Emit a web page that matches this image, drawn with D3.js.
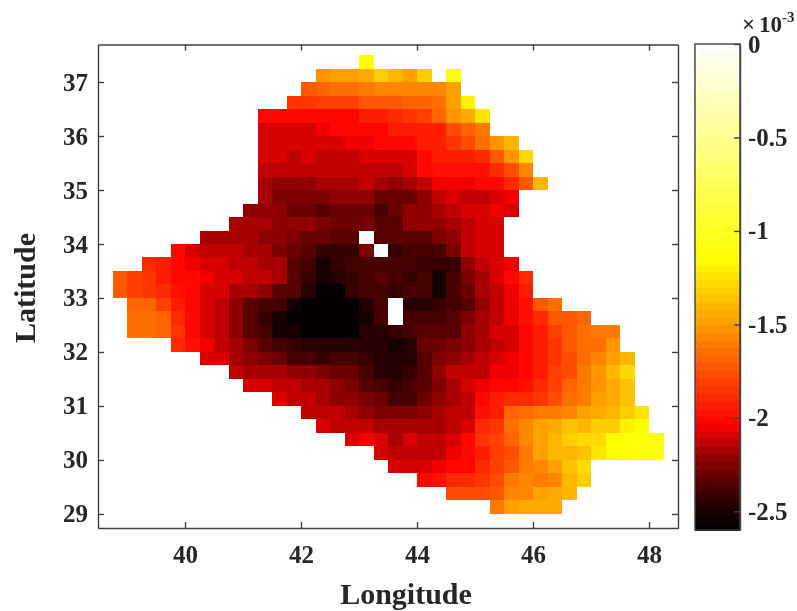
<!DOCTYPE html>
<html>
<head>
<meta charset="utf-8">
<script src="https://cdnjs.cloudflare.com/ajax/libs/d3/7.8.5/d3.min.js"></script>
<style>
  html, body { margin: 0; padding: 0; background: #fff; overflow: hidden; }
  svg { display: block; filter: blur(0.45px); }
  text { font-family: "Liberation Serif", serif; font-weight: bold; fill: #262626; }
  .tick text { font-size: 25px; }
  .axis path, .tick line { stroke: #404040; stroke-width: 1.4px; }
</style>
</head>
<body>
<svg id="chart" width="797" height="611"></svg>
<script>
// grid: 0.25 degree cells, rows listed north to south
var lonStart = 38.75, latStart = 37.5, cellSize = 0.25;

var xTicks = [40, 42, 44, 46, 48];
var yTicks = [29, 30, 31, 32, 33, 34, 35, 36, 37];
var cbarTicks = [0, -0.5, -1, -1.5, -2, -2.5];

// first column of each row
var rowStart = [17, 14, 13, 12, 10, 10, 10, 10, 10, 10, 10, 9, 8, 6, 4, 2, 0, 0, 1, 1, 1, 4, 6, 8, 9, 11, 13, 14, 16, 18, 19, 21, 23, 26];

// values in units of 1e-3, null = no data
var rows = [
  [-1.15],
  [-1.54,-1.48,-1.48,-1.45,-1.32,-1.41,-1.48,-1.31,null,-1.13],
  [-1.73,-1.68,-1.64,-1.64,-1.59,-1.57,-1.57,-1.57,-1.57,-1.57,-1.48],
  [-1.85,-1.85,-1.80,-1.80,-1.80,-1.73,-1.73,-1.71,-1.68,-1.69,-1.64,-1.48,-1.2],
  [-2.03,-2.03,-2.03,-2.03,-2.0,-2.0,-2.0,-1.92,-1.92,-1.87,-1.85,-1.82,-1.68,-1.54,-1.43,-1.25],
  [-2.08,-2.10,-2.10,-2.10,-2.06,-2.03,-2.03,-2.0,-2.0,-1.94,-1.94,-1.91,-1.91,-1.78,-1.68,-1.59],
  [-2.11,-2.11,-2.11,-2.11,-2.08,-2.08,-2.05,-2.05,-2.03,-2.03,-2.0,-1.91,-1.91,-1.84,-1.78,-1.66,-1.52,-1.39],
  [-2.11,-2.11,-2.13,-2.11,-2.12,-2.12,-2.12,-2.08,-2.1,-2.1,-2.08,-2.0,-1.92,-1.92,-1.92,-1.89,-1.73,-1.52,-1.29],
  [-2.14,-2.14,-2.14,-2.14,-2.12,-2.12,-2.12,-2.12,-2.12,-2.13,-2.09,-2.03,-1.96,-1.96,-1.96,-1.96,-1.87,-1.78,-1.57],
  [-2.18,-2.22,-2.22,-2.22,-2.18,-2.18,-2.18,-2.13,-2.19,-2.22,-2.18,-2.12,-2.07,-2.06,-2.06,-2.03,-2.0,-1.87,-1.71,-1.39],
  [-2.19,-2.27,-2.27,-2.27,-2.27,-2.23,-2.23,-2.23,-2.31,-2.28,-2.28,-2.22,-2.13,-2.11,-2.13,-2.13,-2.11,-2.04],
  [-2.23,-2.22,-2.22,-2.28,-2.28,-2.33,-2.28,-2.28,-2.28,-2.37,-2.28,-2.23,-2.23,-2.18,-2.14,-2.11,-2.11,-2.06,-2.09],
  [-2.18,-2.18,-2.18,-2.21,-2.21,-2.21,-2.25,-2.31,-2.31,-2.26,-2.33,-2.34,-2.22,-2.22,-2.2,-2.17,-2.13,-2.08,-2.08],
  [-2.18,-2.19,-2.19,-2.19,-2.2,-2.2,-2.25,-2.3,-2.3,-2.35,-2.35,null,-2.33,-2.35,-2.33,-2.32,-2.25,-2.2,-2.13,-2.11,-2.11],
  [-2.03,-2.11,-2.12,-2.15,-2.15,-2.16,-2.16,-2.24,-2.3,-2.34,-2.4,-2.4,-2.4,-2.24,null,-2.4,-2.39,-2.39,-2.39,-2.26,-2.15,-2.11,-2.09],
  [-1.87,-1.94,-2.03,-2.06,-2.09,-2.11,-2.13,-2.13,-2.16,-2.18,-2.34,-2.38,-2.5,-2.41,-2.38,-2.36,-2.36,-2.36,-2.36,-2.43,-2.43,-2.41,-2.22,-2.14,-2.11,-2.06],
  [-1.73,-1.82,-1.85,-1.91,-2.03,-2.03,-2.05,-2.09,-2.1,-2.13,-2.13,-2.18,-2.35,-2.43,-2.5,-2.47,-2.41,-2.36,-2.35,-2.36,-2.41,-2.39,-2.48,-2.39,-2.24,-2.17,-2.11,-2.03,-1.89],
  [-1.73,-1.8,-1.85,-1.89,-1.96,-2.01,-2.08,-2.1,-2.16,-2.18,-2.2,-2.34,-2.33,-2.45,-2.56,-2.56,-2.42,-2.37,-2.36,-2.41,-2.39,-2.39,-2.48,-2.37,-2.28,-2.18,-2.12,-2.05,-1.91],
  [-1.69,-1.69,-1.82,-1.92,-2.03,-2.08,-2.13,-2.21,-2.33,-2.37,-2.39,-2.5,-2.58,-2.58,-2.58,-2.58,-2.44,-2.37,null,-2.47,-2.47,-2.42,-2.37,-2.32,-2.22,-2.14,-2.05,-1.96,-1.73,-1.64],
  [-1.64,-1.64,-1.68,-1.87,-2.03,-2.08,-2.13,-2.2,-2.34,-2.41,-2.49,-2.56,-2.58,-2.58,-2.58,-2.58,-2.49,-2.37,null,-2.39,-2.39,-2.39,-2.34,-2.26,-2.18,-2.14,-2.05,-1.98,-1.87,-1.73,-1.71,-1.68],
  [-1.64,-1.64,-1.68,-1.85,-2.01,-2.08,-2.13,-2.2,-2.32,-2.39,-2.49,-2.5,-2.58,-2.58,-2.58,-2.58,-2.47,-2.44,-2.41,-2.39,-2.33,-2.33,-2.32,-2.2,-2.17,-2.11,-2.08,-2.03,-1.94,-1.82,-1.73,-1.64,-1.62,-1.59],
  [-1.89,-1.98,-2.07,-2.13,-2.18,-2.26,-2.35,-2.39,-2.43,-2.44,-2.47,-2.47,-2.47,-2.47,-2.44,-2.48,-2.44,-2.31,-2.31,-2.26,-2.2,-2.18,-2.12,-2.1,-2.03,-1.94,-1.83,-1.73,-1.66,-1.64,-1.54],
  [-2.08,-2.1,-2.16,-2.2,-2.26,-2.3,-2.37,-2.39,-2.41,-2.39,-2.39,-2.42,-2.44,-2.47,-2.44,-2.33,-2.24,-2.2,-2.16,-2.13,-2.11,-2.05,-2.03,-1.92,-1.85,-1.78,-1.66,-1.57,-1.48,-1.39],
  [-2.14,-2.18,-2.18,-2.18,-2.22,-2.22,-2.25,-2.3,-2.3,-2.39,-2.47,-2.47,-2.41,-2.33,-2.2,-2.14,-2.14,-2.13,-2.05,-2.05,-2.02,-1.92,-1.82,-1.75,-1.62,-1.52,-1.41,-1.29],
  [-2.11,-2.11,-2.14,-2.14,-2.18,-2.18,-2.23,-2.27,-2.32,-2.37,-2.41,-2.38,-2.34,-2.24,-2.17,-2.11,-2.06,-2.03,-2.03,-1.98,-1.87,-1.8,-1.7,-1.59,-1.52,-1.43,-1.36],
  [-2.09,-2.13,-2.13,-2.18,-2.2,-2.2,-2.25,-2.3,-2.36,-2.36,-2.28,-2.23,-2.17,-2.12,-2.0,-1.92,-1.89,-1.87,-1.85,-1.77,-1.64,-1.59,-1.5,-1.43,-1.36],
  [-2.13,-2.13,-2.15,-2.18,-2.2,-2.25,-2.25,-2.25,-2.2,-2.18,-2.15,-2.12,-1.98,-1.92,-1.69,-1.64,-1.61,-1.61,-1.57,-1.47,-1.45,-1.39,-1.31,-1.22],
  [-2.11,-2.14,-2.14,-2.14,-2.18,-2.18,-2.18,-2.18,-2.18,-2.12,-2.08,-1.89,-1.85,-1.64,-1.57,-1.48,-1.45,-1.36,-1.41,-1.32,-1.31,-1.2,-1.15],
  [-2.09,-2.06,-2.11,-2.16,-2.11,-2.14,-2.14,-2.09,-2.03,-1.85,-1.8,-1.69,-1.55,-1.47,-1.41,-1.34,-1.29,-1.27,-1.17,-1.13,-1.13,-1.13],
  [-2.08,-2.12,-2.12,-2.12,-2.12,-2.05,-2.02,-1.91,-1.82,-1.75,-1.59,-1.5,-1.39,-1.41,-1.36,-1.23,-1.14,-1.14,-1.07,-1.07],
  [-2.09,-2.11,-2.09,-2.05,-2.0,-2.0,-1.87,-1.82,-1.73,-1.59,-1.55,-1.48,-1.36,-1.29],
  [-2.03,-1.98,-1.89,-1.87,-1.85,-1.78,-1.62,-1.57,-1.62,-1.55,-1.41,-1.31],
  [-1.78,-1.78,-1.75,-1.71,-1.57,-1.55,-1.48,-1.45,-1.41],
  [-1.59,-1.48,-1.46,-1.43,-1.43]
];

// colormap
var cmapValues = [-2.6, -2.49, -2.33, -2.22, -2.03, -1.15, 0];
var cmapColors = ['#000000', '#190000', '#5a0000', '#8c0000', '#ff0000', '#ffff00', '#ffffff'];
var nLevels = 64;

var svg = d3.select('#chart');
var box = {left: 98, right: 678, top: 44.5, bottom: 528};

var x = d3.scaleLinear().domain([38.5, 48.5]).range([box.left, box.right]);
var y = d3.scaleLinear().domain([37.695, 28.74]).range([box.top, box.bottom]);

var smooth = d3.scaleLinear().domain(cmapValues).range(cmapColors);
var levels = d3.range(nLevels).map(function(i){
  return smooth(-2.6 + (i + 0.5) * 2.6 / nLevels);
});
var color = d3.scaleQuantize().domain([-2.6, 0]).range(levels);

// flatten the rows into cells
var cells = [];
rows.forEach(function(row, r){
  row.forEach(function(v, i){
    if (v !== null) {
      cells.push({lon: lonStart + (rowStart[r] + i) * cellSize, lat: latStart - r * cellSize, v: v});
    }
  });
});

svg.append('g').attr('shape-rendering', 'crispEdges').selectAll('rect')
  .data(cells)
  .enter().append('rect')
  .attr('x', function(d){ return x(d.lon); })
  .attr('y', function(d){ return y(d.lat); })
  .attr('width', x(lonStart + cellSize) - x(lonStart))
  .attr('height', y(latStart - cellSize) - y(latStart))
  .attr('fill', function(d){ return color(d.v); });

// main axes, ticks point inward
var tickLen = 6;
svg.append('g').attr('class', 'axis').attr('transform', 'translate(0,' + box.bottom + ')')
  .call(d3.axisBottom(x).tickValues(xTicks).tickSize(-tickLen).tickPadding(17).tickSizeOuter(0));
svg.append('g').attr('class', 'axis').attr('transform', 'translate(' + box.left + ',0)')
  .call(d3.axisLeft(y).tickValues(yTicks).tickSize(-tickLen).tickPadding(10).tickSizeOuter(0));
svg.append('g').attr('class', 'axis').attr('transform', 'translate(0,' + box.top + ')')
  .call(d3.axisTop(x).tickValues(xTicks).tickSize(-tickLen).tickFormat('').tickSizeOuter(0));
svg.append('g').attr('class', 'axis').attr('transform', 'translate(' + box.right + ',0)')
  .call(d3.axisRight(y).tickValues(yTicks).tickSize(-tickLen).tickFormat('').tickSizeOuter(0));

svg.append('text').attr('x', 406).attr('y', 604)
  .attr('text-anchor', 'middle').style('font-size', '30px').text('Longitude');
svg.append('text').attr('transform', 'translate(35,288) rotate(-90)')
  .attr('text-anchor', 'middle').style('font-size', '30px').text('Latitude');

// colour bar
var cbar = {left: 695, right: 740, top: 44, bottom: 530};
var cy = d3.scaleLinear().domain([0, -2.6]).range([cbar.top, cbar.bottom]);

svg.append('g').attr('shape-rendering', 'crispEdges').selectAll('rect')
  .data(levels)
  .enter().append('rect')
  .attr('x', cbar.left)
  .attr('width', cbar.right - cbar.left)
  .attr('y', function(d, i){ return cy(-2.6 + (i + 1) * 2.6 / nLevels); })
  .attr('height', (cbar.bottom - cbar.top) / nLevels + 0.5)
  .attr('fill', function(d){ return d; });

svg.append('rect')
  .attr('x', cbar.left).attr('y', cbar.top)
  .attr('width', cbar.right - cbar.left).attr('height', cbar.bottom - cbar.top)
  .attr('fill', 'none').attr('stroke', '#404040').attr('stroke-width', 1.4);

svg.append('g').attr('class', 'axis').attr('transform', 'translate(' + cbar.right + ',0)')
  .call(d3.axisRight(cy).tickValues(cbarTicks).tickSize(-tickLen).tickPadding(8).tickSizeOuter(0)
    .tickFormat(function(d){ return String(d); }));

// exponent above the bar
var expo = svg.append('text').attr('y', 32).style('font-size', '23px');
expo.append('tspan').attr('x', 742).text('\u00d7');
expo.append('tspan').attr('x', 759).text('10');
expo.append('tspan').attr('dy', -10).style('font-size', '15px').text('-3');
</script>
</body>
</html>
